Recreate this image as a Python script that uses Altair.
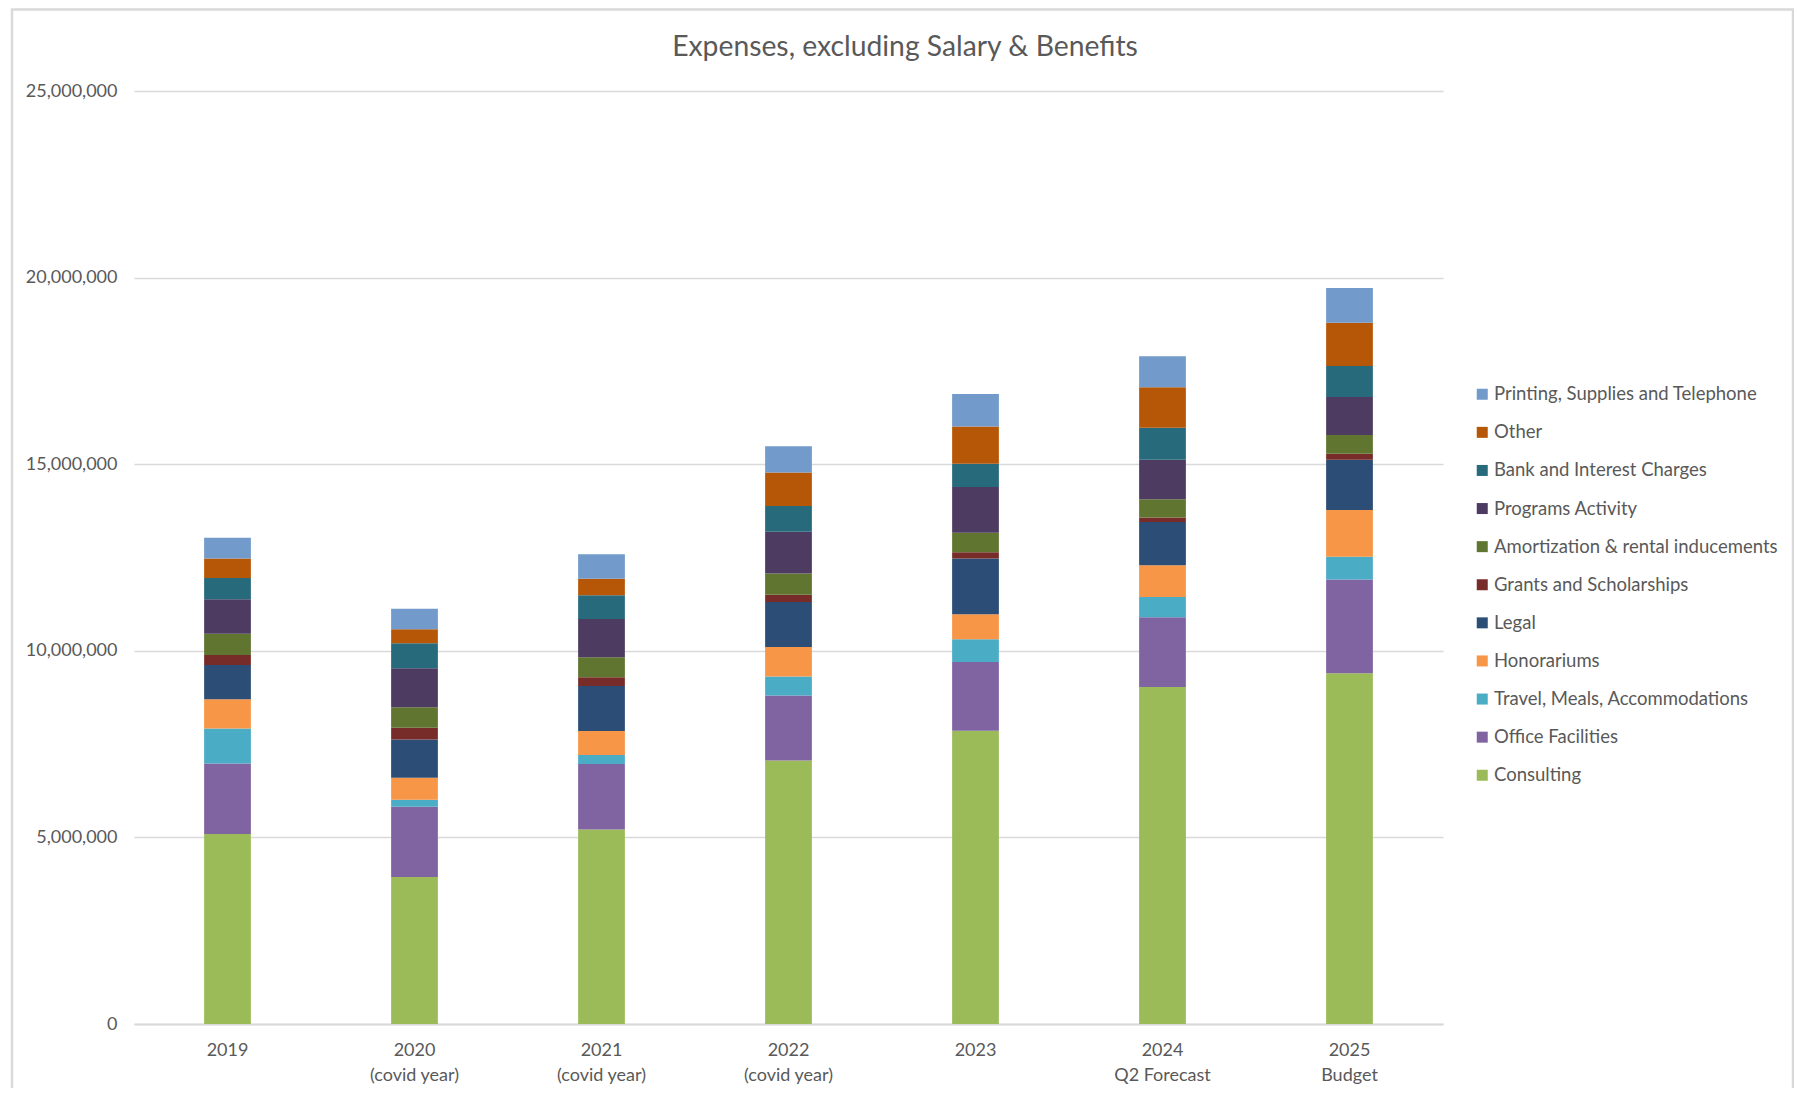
import altair as alt
import pandas as pd

years = ["2019", "2020|(covid year)", "2021|(covid year)", "2022|(covid year)",
         "2023", "2024|Q2 Forecast", "2025|Budget"]

# values in dollars
consulting = [5090000, 3940000, 5210000, 7060000, 7860000, 9030000, 9400000]
office_facilities = [1890000, 1880000, 1760000, 1740000, 1840000, 1870000, 2510000]
travel = [940000, 190000, 240000, 510000, 610000, 540000, 610000]
honorariums = [780000, 590000, 640000, 790000, 670000, 850000, 1250000]
legal = [920000, 1020000, 1210000, 1210000, 1490000, 1160000, 1350000]
grants = [270000, 320000, 230000, 190000, 170000, 120000, 160000]
amortization = [570000, 550000, 540000, 570000, 520000, 490000, 500000]
programs = [920000, 1040000, 1020000, 1120000, 1230000, 1060000, 1020000]
bank = [570000, 670000, 640000, 690000, 620000, 860000, 830000]
other = [520000, 380000, 440000, 900000, 1000000, 1080000, 1160000]
printing = [560000, 550000, 660000, 700000, 870000, 830000, 930000]

# stacking order, bottom to top
categories = [
    "Consulting", "Office Facilities", "Travel, Meals, Accommodations",
    "Honorariums", "Legal", "Grants and Scholarships",
    "Amortization & rental inducements", "Programs Activity",
    "Bank and Interest Charges", "Other", "Printing, Supplies and Telephone",
]
series = [consulting, office_facilities, travel, honorariums, legal, grants,
          amortization, programs, bank, other, printing]
colors = ["#9BBB59", "#8064A2", "#4BACC6", "#F79646", "#2C4D75", "#772C2A",
          "#5F7530", "#4D3B62", "#276A7C", "#B65708", "#729ACA"]

title_text = "Expenses, excluding Salary & Benefits"

rows = []
for ci, (cat, vals) in enumerate(zip(categories, series)):
    for yr, v in zip(years, vals):
        rows.append({"year": yr, "category": cat, "value": v, "order": ci})
df = pd.DataFrame(rows)

FONT = "Lato"
GRAY = "#595959"
LINE = "#D9D9D9"

legend_domain = categories[::-1]
legend_range = colors[::-1]

bars = alt.Chart(df).mark_bar().encode(
    x=alt.X("year:N", sort=years, title=None,
            scale=alt.Scale(paddingInner=0.75, paddingOuter=0.375),
            axis=alt.Axis(labelAngle=0, labelExpr="split(datum.label, '|')",
                          labelFont=FONT, labelFontSize=18, labelColor=GRAY,
                          labelLineHeight=25, labelPadding=17, labelBaseline="top",
                          domainColor=LINE, domainWidth=2, ticks=False, grid=False)),
    y=alt.Y("value:Q", title=None,
            scale=alt.Scale(domain=[0, 25000000], nice=False),
            axis=alt.Axis(values=[0, 5000000, 10000000, 15000000, 20000000, 25000000],
                          format=",d", labelFont=FONT, labelFontSize=18, labelColor=GRAY,
                          labelPadding=17, ticks=False, domain=False,
                          gridColor=LINE, gridWidth=1.6)),
    color=alt.Color("category:N",
                    scale=alt.Scale(domain=legend_domain, range=legend_range),
                    legend=alt.Legend(title=None, orient="none", legendX=1339, legendY=294,
                                      symbolType="square", symbolSize=121,
                                      symbolStrokeWidth=0,
                                      labelFont=FONT, labelFontSize=18.5, labelColor=GRAY,
                                      labelOffset=2.5, rowPadding=19.1, labelLimit=400)),
    order=alt.Order("order:Q", sort="ascending"),
)

one = pd.DataFrame({"k": [0]})
frame = alt.Chart(one).mark_rect(fill=None, stroke=LINE, strokeWidth=2.5).encode(
    x=alt.value(-122), x2=alt.value(1659), y=alt.value(-81.5), y2=alt.value(1200)
)
title = alt.Chart(one).mark_text(
    text=title_text, font=FONT, fontSize=28.3, color=GRAY,
    align="center", baseline="alphabetic"
).encode(x=alt.value(771), y=alt.value(-35))

chart = alt.layer(frame, bars, title).properties(
    width=1309, height=933,
    background="white",
    autosize=alt.AutoSizeParams(type="none"),
    padding={"left": 126, "top": 83, "right": 351, "bottom": 64},
).configure_view(strokeWidth=0, stroke="transparent")

chart.save("out.html", embed_options={"renderer": "svg", "actions": False})
